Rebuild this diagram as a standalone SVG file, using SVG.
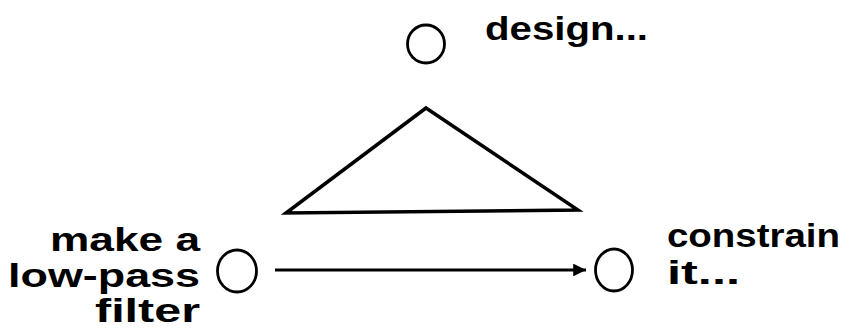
<svg xmlns="http://www.w3.org/2000/svg" width="851" height="331" viewBox="0 0 851 331">
<style>
.n{fill:none;stroke:#000;stroke-width:2.8}
.t{font-family:"Liberation Sans",Arial,sans-serif;font-weight:bold;font-size:34px;fill:#000}
.c{fill:none;stroke:#000;stroke-width:3.2}
</style>
<defs>
<marker id="ah" viewBox="0 0 10 10" refX="10" refY="5" markerWidth="6" markerHeight="4" markerUnits="strokeWidth" orient="auto">
<path d="M0,0 L10,5 L0,10 z" fill="#000"/>
</marker>
</defs>
<rect width="851" height="331" fill="#fff"/>
<g id="design">
<ellipse class="n" cx="426" cy="44" rx="18.5" ry="19"/>
<text class="t" x="485" y="40" textLength="163" lengthAdjust="spacingAndGlyphs">design...</text>
</g>
<g id="triangle">
<path d="M426,108 L578,210 L286,213 Z" fill="none" stroke="#000" stroke-width="3.5" stroke-linejoin="miter"/>
</g>
<g id="make">
<ellipse class="n" cx="237" cy="271" rx="19.5" ry="21"/>
<text class="t" text-anchor="end" x="200" y="251" textLength="150" lengthAdjust="spacingAndGlyphs">make a</text>
<text class="t" text-anchor="end" x="200" y="287" textLength="192" lengthAdjust="spacingAndGlyphs">low-pass</text>
<text class="t" text-anchor="end" x="200" y="322" textLength="105" lengthAdjust="spacingAndGlyphs">filter</text>
</g>
<g id="constrain">
<ellipse class="n" cx="614" cy="270" rx="18.5" ry="21"/>
<text class="t" x="667" y="247" textLength="173" lengthAdjust="spacingAndGlyphs">constrain</text>
<text class="t" x="667" y="284" textLength="73" lengthAdjust="spacingAndGlyphs">it...</text>
</g>
<g id="connectors">
<line class="c" x1="275" y1="270" x2="586" y2="270" marker-end="url(#ah)"/>
</g>
</svg>
